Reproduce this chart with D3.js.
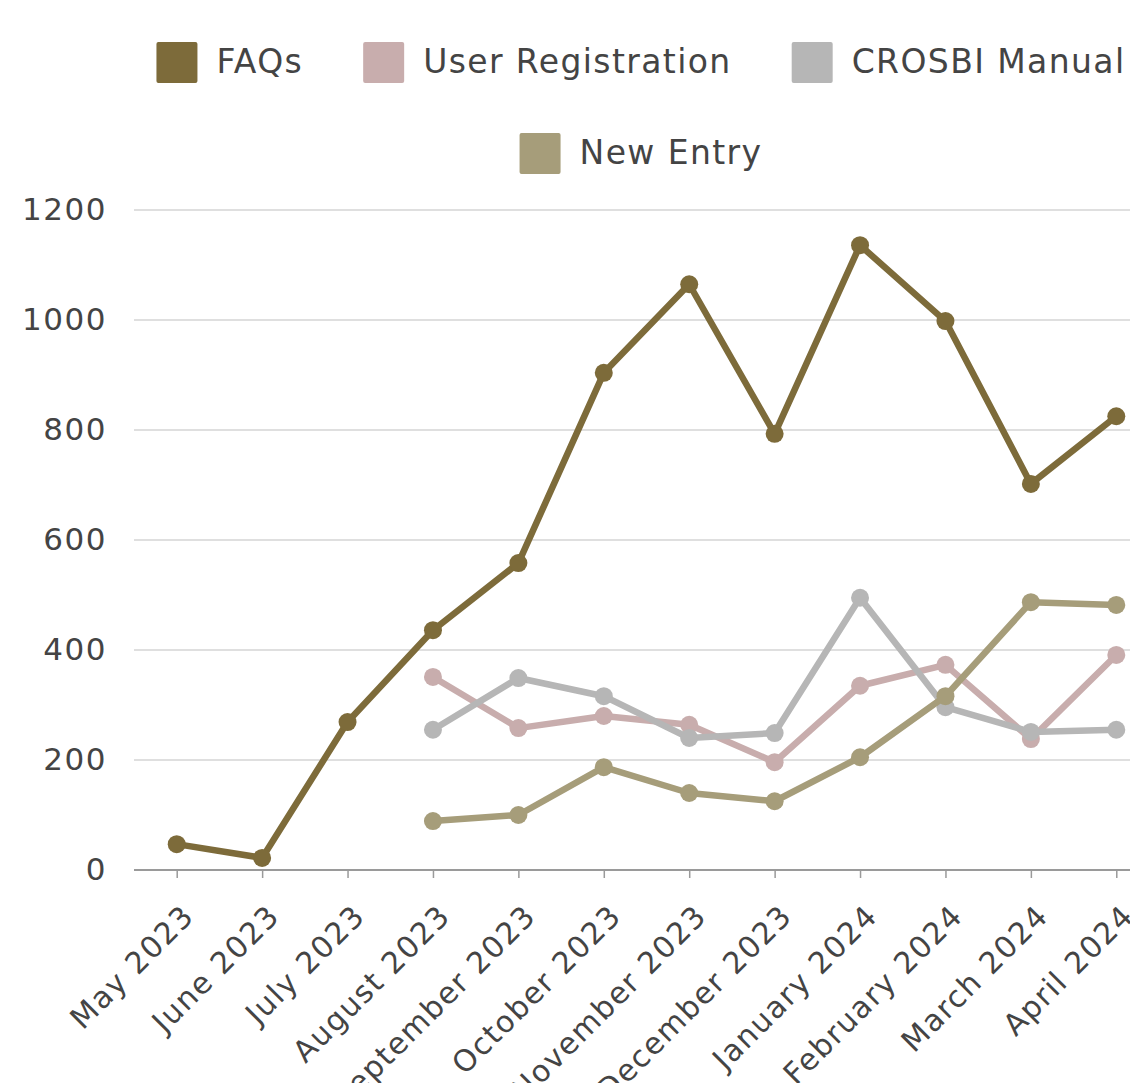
<!DOCTYPE html>
<html>
<head>
<meta charset="utf-8">
<script src="https://cdn.jsdelivr.net/npm/d3@7"></script>
<style>
  body { margin: 0; background: #fff; }
  svg { display: block; font-family: "DejaVu Sans", sans-serif; }
</style>
</head>
<body>
<svg id="svg" width="1130" height="1083"></svg>
<script>
// 数据
const months = ["May 2023", "June 2023", "July 2023", "August 2023", "September 2023", "October 2023",
                "November 2023", "December 2023", "January 2024", "February 2024", "March 2024", "April 2024"];
const seriesNames = ["FAQs", "User Registration", "CROSBI Manual", "New Entry"];
const seriesColors = ["#7d6b3a", "#c8adad", "#b6b6b6", "#a69d7a"];
const faqs = [47, 22, 269, 436, 558, 904, 1065, 793, 1136, 998, 702, 825];
const userReg = [null, null, null, 351, 258, 280, 264, 196, 335, 373, 238, 391];
const crosbi = [null, null, null, 255, 349, 316, 240, 249, 495, 296, 251, 255];
const newEntry = [null, null, null, 89, 100, 187, 140, 125, 205, 316, 487, 482];
const yTicks = [0, 200, 400, 600, 800, 1000, 1200];

const allSeries = [faqs, userReg, crosbi, newEntry];

const svg = d3.select("#svg");
const plotLeft = 134, plotRight = 1159, plotTop = 210, plotBottom = 870;

const x = d3.scalePoint().domain(months).range([plotLeft, plotRight]).padding(0.5);
const y = d3.scaleLinear().domain([0, 1200]).range([plotBottom, plotTop]);

// 网格
svg.append("g")
   .selectAll("line")
   .data(yTicks.filter(d => d > 0))
   .join("line")
   .attr("x1", plotLeft).attr("x2", plotRight)
   .attr("y1", d => y(d)).attr("y2", d => y(d))
   .attr("stroke", "#d4d4d4").attr("stroke-width", 1.5);

// y轴
const yAxis = svg.append("g")
   .attr("transform", "translate(" + plotLeft + ",0)")
   .call(d3.axisLeft(y).tickValues(yTicks).tickFormat(d3.format("d")).tickSize(0).tickPadding(27));
yAxis.select(".domain").remove();
yAxis.selectAll("text").attr("font-size", 31).attr("fill", "#444")
     .attr("letter-spacing", 1.5)
     .attr("font-family", "DejaVu Sans, sans-serif");

// x轴
const xAxis = svg.append("g")
   .attr("transform", "translate(0," + plotBottom + ")")
   .call(d3.axisBottom(x).tickSize(8).tickPadding(0));
xAxis.select(".domain").attr("d", "M" + plotLeft + ",0H" + plotRight).attr("stroke", "#9a9a9a").attr("stroke-width", 2);
xAxis.selectAll(".tick line").attr("stroke", "#9a9a9a").attr("stroke-width", 1.5);
xAxis.selectAll("text")
     .attr("font-size", 30).attr("fill", "#444")
     .attr("letter-spacing", 1.5)
     .attr("font-family", "DejaVu Sans, sans-serif")
     .attr("text-anchor", "end")
     .attr("dy", 0)
     .attr("transform", "translate(13,42) rotate(-45)");

// 折线
const line = d3.line()
   .defined(d => d != null)
   .x((d, i) => x(months[i]))
   .y(d => y(d));

allSeries.forEach((data, k) => {
  const g = svg.append("g");
  g.append("path")
   .datum(data)
   .attr("d", line)
   .attr("fill", "none")
   .attr("stroke", seriesColors[k])
   .attr("stroke-width", 6.5)
   .attr("stroke-linejoin", "round");
  g.selectAll("circle")
   .data(data.map((v, i) => [i, v]).filter(d => d[1] != null))
   .join("circle")
   .attr("cx", d => x(months[d[0]]))
   .attr("cy", d => y(d[1]))
   .attr("r", 9)
   .attr("fill", seriesColors[k]);
});

// 图例
const legendRows = [[0, 1, 2], [3]];
const legendCenter = 641;
legendRows.forEach((row, r) => {
  const yy = 42 + r * 91;
  const g = svg.append("g");
  let cur = 0;
  row.forEach(k => {
    const item = g.append("g").attr("transform", "translate(" + cur + "," + yy + ")");
    item.append("rect").attr("width", 41).attr("height", 41).attr("rx", 2).attr("fill", seriesColors[k]);
    const t = item.append("text").attr("x", 60).attr("y", 31)
        .attr("font-size", 33).attr("letter-spacing", 1.4).attr("fill", "#444").text(seriesNames[k]);
    cur += 60 + t.node().getComputedTextLength() + 60;
  });
  const w = cur - 60;
  g.attr("transform", "translate(" + (legendCenter - w / 2) + ",0)");
});
</script>
</body>
</html>
